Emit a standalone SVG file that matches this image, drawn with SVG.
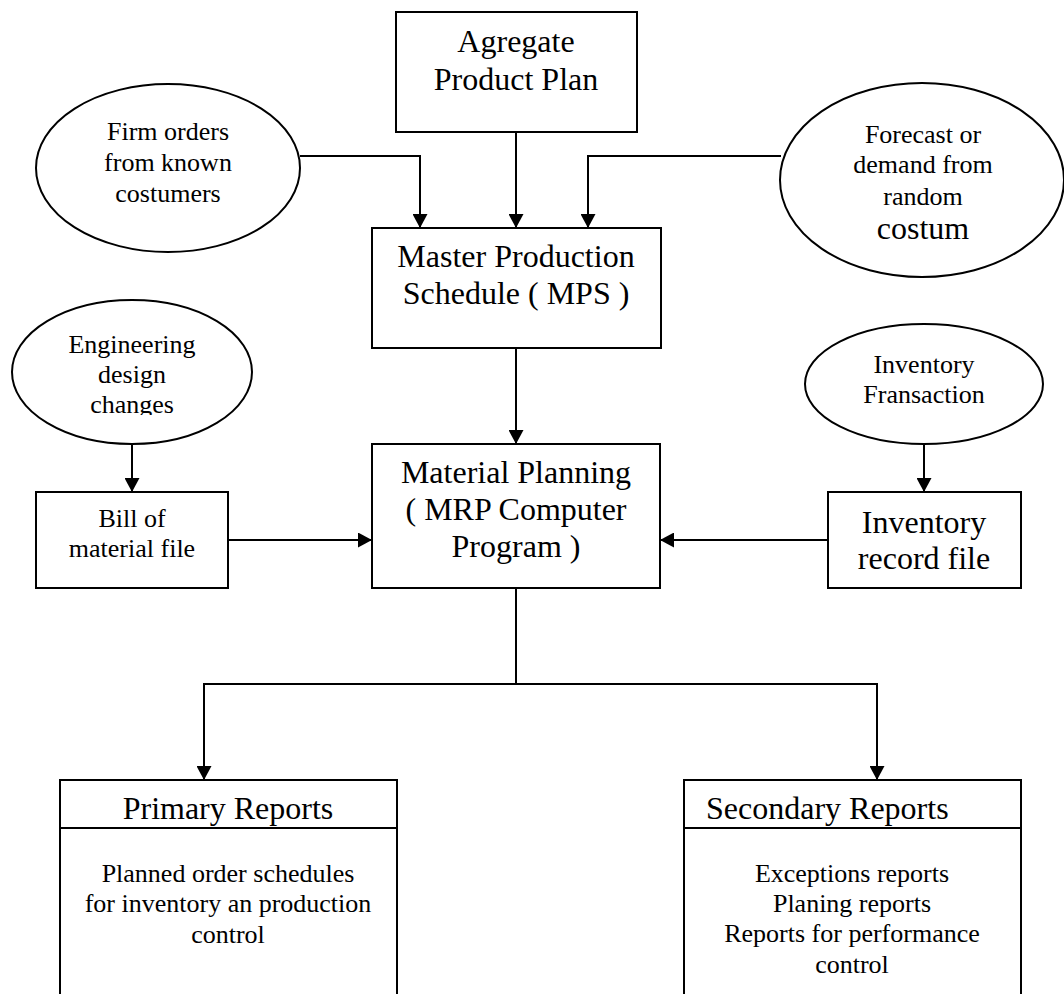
<svg xmlns="http://www.w3.org/2000/svg" width="1064" height="994" viewBox="0 0 1064 994">
<style>
.box{fill:#fff;stroke:#000;stroke-width:2}
.ln{fill:none;stroke:#000;stroke-width:2}
text{font-family:"Liberation Serif","Times New Roman",serif;fill:#000;text-anchor:middle}
.t26{font-size:26px}
.t32{font-size:32px}
</style>
<defs>
<marker id="arr" viewBox="0 0 14 15" refX="14" refY="7.5" markerWidth="14" markerHeight="15" orient="auto" markerUnits="userSpaceOnUse">
<path d="M0,0 L14,7.5 L0,15 z" fill="#000"/>
</marker>
<clipPath id="engclip"><rect x="0" y="290" width="300" height="125"/></clipPath>
</defs>
<rect width="1064" height="994" fill="#fff"/>

<g id="connectors">
<path class="ln" d="M300,156 H420 V228" marker-end="url(#arr)"/>
<path class="ln" d="M516,132 V228" marker-end="url(#arr)"/>
<path class="ln" d="M781,156 H588 V228" marker-end="url(#arr)"/>
<path class="ln" d="M516,348 V444" marker-end="url(#arr)"/>
<path class="ln" d="M132,444 V492" marker-end="url(#arr)"/>
<path class="ln" d="M228,540 H372" marker-end="url(#arr)"/>
<path class="ln" d="M924,444 V492" marker-end="url(#arr)"/>
<path class="ln" d="M828,540 H660" marker-end="url(#arr)"/>
<path class="ln" d="M516,588 V684 H204 V780" marker-end="url(#arr)"/>
<path class="ln" d="M516,684 H877 V780" marker-end="url(#arr)"/>
</g>

<g id="aggregate">
<rect class="box" x="396" y="12" width="241" height="120"/>
<text class="t32" x="516" y="52">Agregate</text>
<text class="t32" x="516" y="90">Product Plan</text>
</g>

<g id="firm-orders">
<ellipse class="box" cx="168" cy="168" rx="132" ry="84"/>
<text class="t26" x="168" y="140">Firm orders</text>
<text class="t26" x="168" y="171">from known</text>
<text class="t26" x="168" y="202">costumers</text>
</g>

<g id="forecast">
<ellipse class="box" cx="922" cy="180" rx="142" ry="97"/>
<text class="t26" x="923" y="143">Forecast or</text>
<text class="t26" x="923" y="173">demand from</text>
<text class="t26" x="923" y="205">random</text>
<text class="t32" x="923" y="239">costum</text>
</g>

<g id="mps">
<rect class="box" x="372" y="228" width="289" height="120"/>
<text class="t32" x="516" y="267">Master Production</text>
<text class="t32" x="516" y="304">Schedule ( MPS )</text>
</g>

<g id="engineering">
<ellipse class="box" cx="132" cy="372" rx="120" ry="72"/>
<g clip-path="url(#engclip)">
<text class="t26" x="132" y="353">Engineering</text>
<text class="t26" x="132" y="383">design</text>
<text class="t26" x="132" y="413">changes</text>
</g>
</g>

<g id="bill">
<rect class="box" x="36" y="492" width="192" height="96"/>
<text class="t26" x="132" y="527">Bill of</text>
<text class="t26" x="132" y="557">material file</text>
</g>

<g id="material">
<rect class="box" x="372" y="444" width="288" height="144"/>
<text class="t32" x="516" y="483">Material Planning</text>
<text class="t32" x="516" y="520">( MRP Computer</text>
<text class="t32" x="516" y="557">Program )</text>
</g>

<g id="inv-transaction">
<ellipse class="box" cx="924" cy="384" rx="119" ry="60"/>
<text class="t26" x="924" y="373">Inventory</text>
<text class="t26" x="924" y="403">Fransaction</text>
</g>

<g id="inv-record">
<rect class="box" x="828" y="492" width="193" height="96"/>
<text class="t32" x="924" y="533">Inventory</text>
<text class="t32" x="924" y="569">record file</text>
</g>

<g id="primary">
<rect class="box" x="60" y="780" width="337" height="230"/>
<line class="ln" x1="60" y1="828" x2="397" y2="828"/>
<text class="t32" x="228" y="819">Primary Reports</text>
<text class="t26" x="228" y="882">Planned order schedules</text>
<text class="t26" x="228" y="912">for inventory an production</text>
<text class="t26" x="228" y="943">control</text>
</g>

<g id="secondary">
<rect class="box" x="684" y="780" width="337" height="230"/>
<line class="ln" x1="684" y1="828" x2="1021" y2="828"/>
<text class="t32" x="706" y="819" style="text-anchor:start">Secondary Reports</text>
<text class="t26" x="852" y="882">Exceptions reports</text>
<text class="t26" x="852" y="912">Planing reports</text>
<text class="t26" x="852" y="942">Reports for performance</text>
<text class="t26" x="852" y="973">control</text>
</g>
</svg>
